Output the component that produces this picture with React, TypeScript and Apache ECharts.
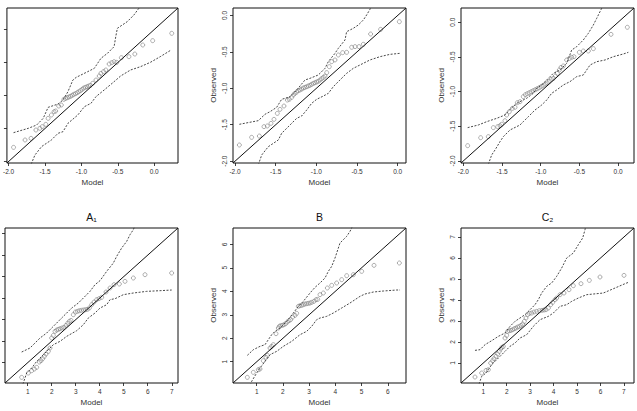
import React, { useEffect, useRef } from "react";
import * as echarts from "echarts";

const panelTitles = ["", "", "", "A₁", "B", "C₂"];
const xName = "Model";
const yName = "Observed";

const topTicks = [-2, -1.5, -1, -0.5, 0];
const ticks1to7 = [1, 2, 3, 4, 5, 6, 7];
const ticks1to6 = [1, 2, 3, 4, 5, 6];

const axisRanges: [number, number][] = [
  [-2.023, 0.327],
  [-2.025, 0.102],
  [-2.03, 0.205],
  [0.055, 7.26],
  [0.095, 6.695],
  [0.05, 7.43],
];

const p1Points: [number, number][] = [
  [-1.932, -1.786], [-1.774, -1.674], [-1.692, -1.649], [-1.625, -1.523], [-1.57, -1.497], [-1.538, -1.472],
  [-1.489, -1.437], [-1.457, -1.346], [-1.412, -1.295], [-1.375, -1.245], [-1.353, -1.235], [-1.312, -1.159],
  [-1.276, -1.144], [-1.24, -1.058], [-1.217, -1.043], [-1.194, -1.033], [-1.172, -1.022], [-1.149, -1.012],
  [-1.126, -0.997], [-1.104, -0.982], [-1.081, -0.972], [-1.058, -0.957], [-1.036, -0.942], [-1.013, -0.926],
  [-0.99, -0.906], [-0.968, -0.886], [-0.945, -0.876], [-0.923, -0.866], [-0.9, -0.856], [-0.877, -0.846],
  [-0.845, -0.815], [-0.8, -0.765], [-0.755, -0.704], [-0.732, -0.664], [-0.696, -0.638], [-0.664, -0.613],
  [-0.619, -0.522], [-0.583, -0.502], [-0.551, -0.487], [-0.515, -0.497], [-0.451, -0.426], [-0.347, -0.411],
  [-0.266, -0.371], [-0.157, -0.234], [-0.021, -0.168], [0.241, -0.057],
];
const p1Upper: [number, number][] = [
  [-1.932, -1.563], [-1.729, -1.497], [-1.615, -1.447], [-1.525, -1.346], [-1.457, -1.179], [-1.321, -1.129],
  [-1.253, -1.068], [-1.185, -0.942], [-1.117, -0.765], [-1.072, -0.725], [-0.913, -0.638], [-0.823, -0.588],
  [-0.732, -0.436], [-0.642, -0.36], [-0.551, -0.259], [-0.528, -0.108], [-0.506, 0.019], [-0.37, 0.12],
  [-0.279, 0.221], [-0.211, 0.322], [-0.19, 0.4],
];
const p1Lower: [number, number][] = [
  [-1.69, -2.04], [-1.638, -1.902], [-1.548, -1.775], [-1.412, -1.674], [-1.321, -1.573], [-1.253, -1.548],
  [-1.185, -1.422], [-1.049, -1.295], [-0.959, -1.169], [-0.868, -1.118], [-0.8, -1.017], [-0.687, -0.916],
  [-0.551, -0.79], [-0.461, -0.704], [-0.325, -0.613], [-0.189, -0.563], [-0.053, -0.497], [0.083, -0.411],
  [0.232, -0.31],
];

const p2Points: [number, number][] = [
  [-1.947, -1.778], [-1.796, -1.673], [-1.701, -1.655], [-1.644, -1.526], [-1.603, -1.517], [-1.558, -1.481],
  [-1.521, -1.426], [-1.48, -1.344], [-1.447, -1.289], [-1.398, -1.243], [-1.357, -1.161], [-1.333, -1.151],
  [-1.304, -1.124], [-1.283, -1.092], [-1.263, -1.069], [-1.242, -1.051], [-1.222, -1.032], [-1.201, -1.023],
  [-1.181, -1.01], [-1.16, -0.996], [-1.14, -0.987], [-1.119, -0.978], [-1.099, -0.968], [-1.078, -0.959],
  [-1.058, -0.945], [-1.037, -0.932], [-1.017, -0.923], [-0.996, -0.913], [-0.976, -0.904], [-0.955, -0.886],
  [-0.935, -0.868], [-0.914, -0.849], [-0.894, -0.831], [-0.873, -0.785], [-0.841, -0.703], [-0.812, -0.634],
  [-0.771, -0.611], [-0.73, -0.543], [-0.677, -0.511], [-0.628, -0.506], [-0.566, -0.437], [-0.525, -0.428],
  [-0.476, -0.428], [-0.423, -0.396], [-0.333, -0.255], [-0.21, -0.191], [0.02, -0.086],
];
const p2Upper: [number, number][] = [
  [-1.947, -1.494], [-1.714, -1.444], [-1.632, -1.357], [-1.57, -1.321], [-1.488, -1.261], [-1.427, -1.151],
  [-1.386, -1.138], [-1.324, -1.115], [-1.242, -1.023], [-1.14, -0.886], [-1.078, -0.863], [-0.976, -0.817],
  [-0.894, -0.726], [-0.853, -0.634], [-0.771, -0.52], [-0.73, -0.451], [-0.648, -0.337], [-0.628, -0.223],
  [-0.546, -0.177], [-0.484, -0.131], [-0.423, -0.063], [-0.382, 0.006], [-0.341, 0.084], [-0.32, 0.143],
];
const p2Lower: [number, number][] = [
  [-1.714, -2.05], [-1.672, -1.915], [-1.591, -1.801], [-1.529, -1.755], [-1.468, -1.709], [-1.427, -1.618],
  [-1.365, -1.549], [-1.304, -1.481], [-1.242, -1.412], [-1.181, -1.38], [-1.119, -1.298], [-1.058, -1.206],
  [-0.996, -1.151], [-0.914, -1.106], [-0.853, -1.069], [-0.792, -0.978], [-0.71, -0.886], [-0.628, -0.795],
  [-0.546, -0.726], [-0.464, -0.68], [-0.341, -0.611], [-0.218, -0.566], [-0.095, -0.534], [0.028, -0.52],
];

const p3Points: [number, number][] = [
  [-1.944, -1.78], [-1.776, -1.665], [-1.677, -1.65], [-1.612, -1.52], [-1.556, -1.506], [-1.526, -1.492],
  [-1.505, -1.472], [-1.462, -1.42], [-1.44, -1.338], [-1.406, -1.29], [-1.367, -1.242], [-1.332, -1.227],
  [-1.302, -1.16], [-1.268, -1.146], [-1.225, -1.073], [-1.199, -1.045], [-1.173, -1.03], [-1.147, -1.016],
  [-1.121, -1.001], [-1.096, -0.987], [-1.07, -0.973], [-1.044, -0.958], [-1.018, -0.944], [-0.992, -0.925],
  [-0.966, -0.91], [-0.94, -0.891], [-0.915, -0.872], [-0.889, -0.852], [-0.863, -0.824], [-0.837, -0.809],
  [-0.811, -0.776], [-0.785, -0.737], [-0.76, -0.689], [-0.738, -0.651], [-0.708, -0.631], [-0.665, -0.545],
  [-0.63, -0.521], [-0.6, -0.506], [-0.57, -0.497], [-0.501, -0.434], [-0.45, -0.415], [-0.385, -0.415],
  [-0.32, -0.381], [-0.092, -0.175], [0.119, -0.073],
];
const p3Upper: [number, number][] = [
  [-1.944, -1.52], [-1.806, -1.482], [-1.698, -1.434], [-1.569, -1.386], [-1.462, -1.338], [-1.397, -1.256],
  [-1.311, -1.17], [-1.182, -1.097], [-1.096, -1.025], [-1.052, -0.953], [-0.988, -0.905], [-0.923, -0.833],
  [-0.837, -0.737], [-0.751, -0.689], [-0.665, -0.593], [-0.6, -0.401], [-0.536, -0.353], [-0.45, -0.256],
  [-0.385, -0.16], [-0.32, -0.04], [-0.277, 0.056], [-0.213, 0.2], [-0.191, 0.272],
];
const p3Lower: [number, number][] = [
  [-1.677, -2.05], [-1.634, -1.915], [-1.591, -1.843], [-1.526, -1.722], [-1.483, -1.65], [-1.397, -1.554],
  [-1.268, -1.482], [-1.225, -1.434], [-1.16, -1.362], [-1.074, -1.266], [-0.988, -1.194], [-0.923, -1.122],
  [-0.859, -1.025], [-0.794, -0.977], [-0.708, -0.905], [-0.622, -0.857], [-0.536, -0.785], [-0.45, -0.761],
  [-0.363, -0.617], [-0.277, -0.569], [-0.17, -0.545], [-0.062, -0.497], [0.067, -0.458], [0.132, -0.434],
];

const a1Points: [number, number][] = [
  [0.749, 0.317], [1.027, 0.518], [1.165, 0.627], [1.277, 0.704], [1.374, 0.782], [1.485, 1.03], [1.554, 1.092],
  [1.624, 1.185], [1.693, 1.293], [1.763, 1.402], [1.86, 1.526], [1.929, 1.681], [1.999, 2.146], [2.068, 2.269],
  [2.138, 2.455], [2.207, 2.518], [2.276, 2.548], [2.346, 2.579], [2.429, 2.611], [2.512, 2.641], [2.596, 2.734],
  [2.665, 2.827], [2.734, 2.92], [2.804, 2.967], [2.901, 3.23], [2.984, 3.354], [3.068, 3.385], [3.151, 3.416],
  [3.234, 3.432], [3.318, 3.447], [3.401, 3.463], [3.484, 3.478], [3.567, 3.54], [3.665, 3.695], [3.762, 3.819],
  [3.873, 3.928], [3.97, 3.974], [4.081, 4.036], [4.262, 4.284], [4.428, 4.47], [4.595, 4.625], [4.817, 4.656],
  [5.053, 4.78], [5.4, 4.935], [5.886, 5.09], [6.997, 5.167],
];
const a1Upper: [number, number][] = [
  [0.749, 1.495], [1.096, 1.681], [1.513, 2.146], [1.791, 2.378], [1.999, 2.611], [2.207, 2.843], [2.415, 3.076],
  [2.624, 3.308], [2.832, 3.54], [3.109, 3.773], [3.318, 4.005], [3.595, 4.315], [3.803, 4.625], [4.012, 4.811],
  [4.29, 5.245], [4.567, 5.632], [4.706, 5.942], [4.914, 6.33], [5.123, 6.639], [5.261, 6.949], [5.4, 7.182],
  [5.469, 7.383],
];
const a1Lower: [number, number][] = [
  [0.8, 0.0], [0.958, 0.519], [1.166, 0.751], [1.374, 1.061], [1.582, 1.293], [1.791, 1.526], [2.068, 1.836],
  [2.346, 1.99], [2.624, 2.223], [3.04, 2.486], [3.318, 2.765], [3.526, 3.076], [3.803, 3.308], [4.012, 3.54],
  [4.29, 3.695], [4.428, 3.928], [4.636, 3.974], [4.983, 4.16], [5.4, 4.238], [5.955, 4.315], [6.511, 4.346],
  [6.997, 4.377],
];

const bPoints: [number, number][] = [
  [0.642, 0.335], [0.871, 0.548], [1.061, 0.661], [1.125, 0.69], [1.252, 1.045], [1.354, 1.187], [1.405, 1.272],
  [1.507, 1.584], [1.57, 1.655], [1.634, 1.726], [1.736, 2.195], [1.825, 2.436], [1.863, 2.507], [1.914, 2.535],
  [1.977, 2.549], [2.041, 2.578], [2.105, 2.621], [2.168, 2.692], [2.232, 2.748], [2.295, 2.791], [2.372, 2.905],
  [2.461, 2.975], [2.524, 3.061], [2.588, 3.359], [2.651, 3.387], [2.715, 3.401], [2.778, 3.43], [2.842, 3.458],
  [2.906, 3.472], [2.969, 3.487], [3.033, 3.501], [3.097, 3.529], [3.185, 3.572], [3.262, 3.643], [3.326, 3.657],
  [3.414, 3.856], [3.542, 3.927], [3.694, 4.14], [3.86, 4.253], [4.05, 4.353], [4.241, 4.495], [4.432, 4.665],
  [4.686, 4.707], [5.004, 4.849], [5.475, 5.105], [6.441, 5.205],
];
const bUpper: [number, number][] = [
  [0.642, 1.272], [0.871, 1.513], [1.125, 1.655], [1.316, 1.726], [1.443, 1.939], [1.57, 2.152], [1.697, 2.294],
  [1.888, 2.436], [2.143, 2.72], [2.397, 3.075], [2.588, 3.359], [2.778, 3.572], [3.033, 3.927], [3.224, 4.168],
  [3.414, 4.353], [3.605, 4.566], [3.732, 4.849], [3.86, 5.062], [3.987, 5.417], [4.114, 5.843], [4.177, 6.056],
  [4.305, 6.198], [4.432, 6.34], [4.559, 6.553], [4.623, 6.695], [4.686, 6.908],
];
const bLower: [number, number][] = [
  [0.75, 0.0], [0.807, 0.164], [0.998, 0.52], [1.125, 0.733], [1.316, 1.016], [1.507, 1.3], [1.761, 1.442],
  [2.015, 1.655], [2.334, 1.868], [2.651, 2.152], [2.906, 2.294], [3.097, 2.507], [3.287, 2.791], [3.414, 2.862],
  [3.669, 2.933], [3.923, 3.075], [4.241, 3.288], [4.559, 3.501], [4.941, 3.785], [5.131, 3.884], [5.449, 3.969],
  [5.831, 4.012], [6.34, 4.055], [6.467, 4.055],
];

const c2Points: [number, number][] = [
  [0.647, 0.334], [0.932, 0.525], [1.117, 0.651], [1.216, 0.683], [1.316, 1.001], [1.401, 1.112], [1.458, 1.207],
  [1.543, 1.318], [1.614, 1.43], [1.685, 1.556], [1.742, 1.668], [1.799, 1.747], [1.856, 1.794], [1.927, 2.191],
  [1.998, 2.318], [2.041, 2.509], [2.112, 2.54], [2.183, 2.556], [2.254, 2.588], [2.325, 2.636], [2.396, 2.668],
  [2.468, 2.715], [2.539, 2.731], [2.61, 2.794], [2.681, 2.858], [2.752, 2.985], [2.823, 3.144], [2.894, 3.302],
  [2.965, 3.366], [3.065, 3.382], [3.164, 3.43], [3.278, 3.461], [3.392, 3.493], [3.506, 3.509], [3.591, 3.525],
  [3.676, 3.54], [3.776, 3.62], [3.876, 3.779], [3.961, 3.89], [4.06, 4.017], [4.131, 4.096], [4.274, 4.255],
  [4.444, 4.334], [4.658, 4.493], [4.842, 4.683], [5.169, 4.779], [5.525, 4.937], [5.98, 5.096], [7.004, 5.175],
];
const c2Upper: [number, number][] = [
  [0.647, 1.604], [0.861, 1.636], [1.074, 1.874], [1.358, 2.064], [1.643, 2.271], [1.927, 2.43], [2.14, 2.747],
  [2.354, 2.985], [2.567, 3.144], [2.78, 3.302], [2.994, 3.54], [3.207, 3.779], [3.349, 4.017], [3.492, 4.334],
  [3.705, 4.651], [3.918, 4.811], [4.131, 5.128], [4.345, 5.525], [4.558, 6.001], [4.842, 6.239], [5.056, 6.636],
  [5.241, 6.953], [5.34, 7.35], [5.369, 7.509],
];
const c2Lower: [number, number][] = [
  [0.82, 0.0], [0.932, 0.366], [1.117, 0.525], [1.358, 0.921], [1.643, 1.239], [1.927, 1.556], [2.14, 1.794],
  [2.354, 1.953], [2.567, 2.191], [2.852, 2.35], [3.136, 2.747], [3.42, 3.064], [3.776, 3.223], [3.989, 3.382],
  [4.274, 3.699], [4.558, 3.779], [4.772, 3.937], [5.056, 4.096], [5.411, 4.255], [5.696, 4.287], [6.122, 4.334],
  [6.62, 4.572], [7.047, 4.779], [7.189, 4.842],
];

const allPoints = [p1Points, p2Points, p3Points, a1Points, bPoints, c2Points];
const allUpper = [p1Upper, p2Upper, p3Upper, a1Upper, bUpper, c2Upper];
const allLower = [p1Lower, p2Lower, p3Lower, a1Lower, bLower, c2Lower];
const allTicks = [topTicks, topTicks, topTicks, ticks1to7, ticks1to6, ticks1to7];

const FONT = "'Liberation Sans', Arial, Helvetica, sans-serif";
const GRID_LEFTS = [5, 233, 461];
const GRID_TOPS = [8, 228];
const GRID_W = 173;
const GRID_H = 155;

export default function App() {
  const ref = useRef<HTMLDivElement>(null);
  useEffect(() => {
    const chart = echarts.init(ref.current!, null, { renderer: "svg" });
    const grids: any[] = [];
    const xAxes: any[] = [];
    const yAxes: any[] = [];
    const series: any[] = [];
    const graphics: any[] = [];
    for (let i = 0; i < 6; i++) {
      const col = i % 3;
      const row = Math.floor(i / 3);
      const [mn, mx] = axisRanges[i];
      const ticks = allTicks[i];
      const fmt = (v: number) => (row === 0 ? Number(v).toFixed(1) : String(Math.round(v)));
      grids.push({
        left: GRID_LEFTS[col],
        top: GRID_TOPS[row],
        width: GRID_W,
        height: GRID_H,
        show: true,
        borderColor: "#111",
        borderWidth: 1,
        backgroundColor: "transparent",
      });
      const tickCfg = { show: true, length: 3, customValues: ticks, lineStyle: { color: "#111", width: 0.8 } };
      xAxes.push({
        type: "value",
        gridIndex: i,
        position: "bottom",
        min: mn,
        max: mx,
        axisLine: { show: false, onZero: false },
        splitLine: { show: false },
        axisTick: tickCfg,
        axisLabel: { customValues: ticks, formatter: fmt, fontSize: 6.5, color: "#333", margin: 5, fontFamily: FONT },
        name: xName,
        nameLocation: "middle",
        nameGap: 15,
        nameTextStyle: { fontSize: 8, color: "#333", fontFamily: FONT },
      });
      yAxes.push({
        type: "value",
        gridIndex: i,
        position: "left",
        min: mn,
        max: mx,
        axisLine: { show: false, onZero: false },
        splitLine: { show: false },
        axisTick: tickCfg,
        axisLabel: {
          show: col !== 0,
          customValues: ticks,
          formatter: fmt,
          rotate: 90,
          fontSize: 6.5,
          color: "#333",
          margin: 5,
          fontFamily: FONT,
        },
        name: col !== 0 ? yName : "",
        nameLocation: "middle",
        nameRotate: 90,
        nameGap: 16,
        nameTextStyle: { fontSize: 8, color: "#333", fontFamily: FONT },
      });
      series.push({
        type: "scatter",
        xAxisIndex: i,
        yAxisIndex: i,
        data: allPoints[i],
        symbol: "circle",
        symbolSize: 4,
        itemStyle: { color: "rgba(0,0,0,0)", borderColor: "#808080", borderWidth: 0.8 },
        clip: true,
        z: 2,
      });
      series.push({
        type: "line",
        xAxisIndex: i,
        yAxisIndex: i,
        data: [[mn, mn], [mx, mx]],
        symbol: "none",
        lineStyle: { color: "#111", width: 1 },
        clip: true,
        z: 3,
      });
      series.push({
        type: "line",
        xAxisIndex: i,
        yAxisIndex: i,
        data: allUpper[i],
        symbol: "none",
        lineStyle: { color: "#333", width: 0.9, type: [2, 1.5] },
        clip: true,
        z: 3,
      });
      series.push({
        type: "line",
        xAxisIndex: i,
        yAxisIndex: i,
        data: allLower[i],
        symbol: "none",
        lineStyle: { color: "#333", width: 0.9, type: [2, 1.5] },
        clip: true,
        z: 3,
      });
      if (panelTitles[i]) {
        graphics.push({
          type: "text",
          x: GRID_LEFTS[col] + GRID_W / 2,
          y: GRID_TOPS[row] - 11.5,
          style: {
            text: panelTitles[i],
            fontSize: 10.5,
            fontFamily: "'Liberation Sans', 'DejaVu Sans', sans-serif",
            fill: "#111",
            align: "center",
            verticalAlign: "middle",
          },
        });
      }
    }
    chart.setOption({
      animation: false,
      backgroundColor: "#fff",
      grid: grids,
      xAxis: xAxes,
      yAxis: yAxes,
      series,
      graphic: graphics,
    });
    return () => chart.dispose();
  }, []);
  return <div ref={ref} style={{ position: "fixed", left: 0, top: 0, width: 637, height: 411 }} />;
}
